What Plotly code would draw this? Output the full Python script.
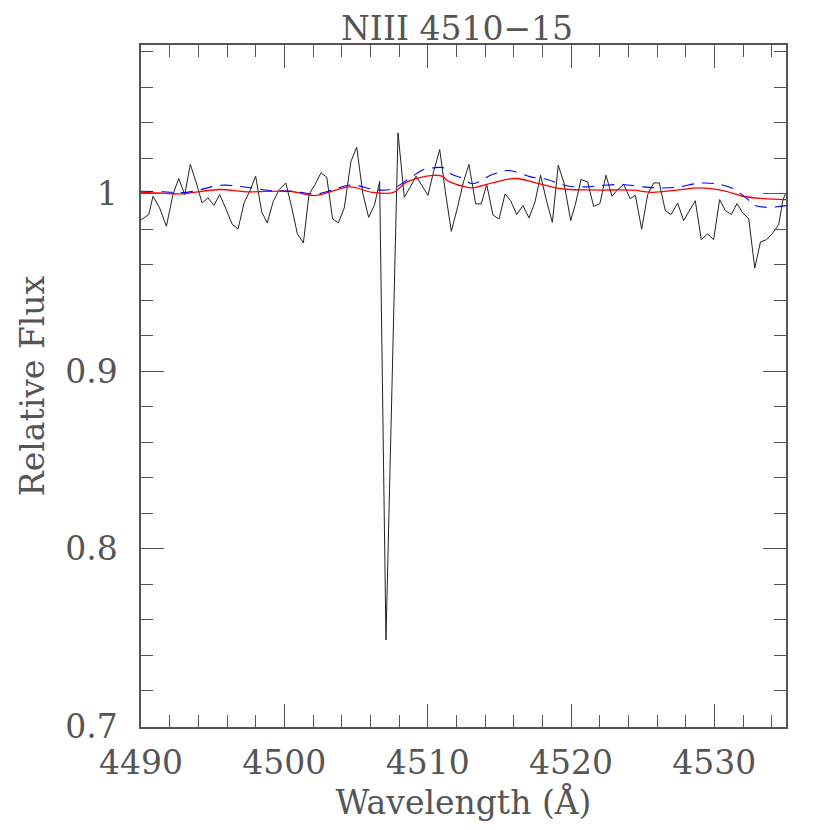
"""NIII 4510-15 line profile: observed spectrum vs two model fits."""

import plotly.graph_objects as go

# ── Observed spectrum ────────────────────────────────────────────────────
wave_obs = [
    4490.02, 4490.54, 4490.84, 4491.30, 4491.77, 4492.23, 4492.63, 4493.05,
    4493.44, 4493.86, 4494.26, 4494.67, 4495.09, 4495.49, 4495.95, 4496.35,
    4496.77, 4497.19, 4497.58, 4498.00, 4498.42, 4498.81, 4499.23, 4499.65,
    4500.10, 4500.47, 4500.91, 4501.33, 4501.72, 4502.14, 4502.56, 4502.96,
    4503.37, 4503.77, 4504.18, 4504.65, 4505.05, 4505.47, 4505.88, 4506.30,
    4506.65, 4507.09, 4507.93, 4508.37, 4508.79, 4509.19, 4509.60, 4510.02,
    4510.42, 4510.84, 4511.23, 4511.65, 4512.10, 4512.51, 4512.88, 4513.35,
    4513.74, 4514.12, 4514.56, 4514.98, 4515.40, 4515.79, 4516.21, 4516.65,
    4517.07, 4517.49, 4517.88, 4518.30, 4518.70, 4519.11, 4519.51, 4519.98,
    4520.30, 4520.70, 4521.16, 4521.58, 4522.02, 4522.44, 4522.86, 4523.26,
    4523.68, 4524.12, 4524.49, 4524.93, 4525.35, 4525.77, 4526.16, 4526.58,
    4526.98, 4527.44, 4527.86, 4528.28, 4528.67, 4529.09, 4529.53, 4529.95,
    4530.37, 4530.77, 4531.19, 4531.58, 4531.98, 4532.40, 4532.82, 4533.22,
    4533.64, 4534.08, 4534.49, 4534.79, 4534.96,
]
flux_obs = [
    0.9853, 0.9882, 0.9985, 0.9919, 0.9816, 0.9994, 1.0085, 0.9994,
    1.0164, 1.0060, 0.9947, 0.9976, 0.9934, 0.9994, 0.9910, 0.9829,
    0.9800, 0.9947, 1.0013, 1.0098, 0.9897, 0.9835, 0.9957, 1.0023,
    1.0060, 0.9938, 0.9773, 0.9722, 0.9994, 1.0051, 1.0117, 1.0092,
    0.9857, 0.9835, 0.9919, 1.0182, 1.0261, 1.0004, 0.9866, 0.9938,
    1.0069, 0.7485, 1.0342, 0.9979, 1.0038, 1.0098, 1.0045, 0.9990,
    1.0126, 1.0248, 1.0013, 0.9787, 0.9928, 1.0069, 1.0164, 0.9942,
    0.9942, 1.0051, 0.9878, 0.9857, 0.9998, 0.9960, 0.9882, 0.9932,
    0.9863, 0.9953, 1.0103, 0.9957, 0.9838, 1.0160, 1.0060, 0.9848,
    0.9938, 1.0079, 1.0066, 0.9928, 0.9944, 1.0103, 0.9985, 1.0023,
    1.0051, 0.9972, 0.9990, 0.9800, 0.9994, 1.0060, 1.0060, 0.9904,
    0.9882, 0.9947, 0.9848, 0.9910, 0.9960, 0.9740, 0.9773, 0.9740,
    0.9966, 0.9904, 0.9882, 0.9944, 0.9891, 0.9859, 0.9581, 0.9728,
    0.9740, 0.9778, 0.9825, 0.9966, 0.9998,
]

# ── Model 1 (solid red) ──────────────────────────────────────────────────
wave_red = [
    4490.00, 4491.53, 4492.72, 4495.51, 4497.37, 4500.40, 4502.14, 4504.58,
    4506.12, 4507.63, 4508.44, 4509.37, 4510.42, 4511.00, 4511.47, 4512.51,
    4513.11, 4514.51, 4516.14, 4517.54, 4518.93, 4519.98, 4521.98, 4524.31,
    4525.70, 4527.44, 4528.98, 4530.61, 4532.00, 4533.40, 4535.00,
]
flux_red = [
    1.0007, 1.0003, 0.9998, 1.0023, 1.0010, 1.0013, 0.9989, 1.0038,
    1.0007, 1.0007, 1.0060, 1.0089, 1.0103, 1.0098, 1.0069, 1.0040,
    1.0032, 1.0060, 1.0085, 1.0060, 1.0032, 1.0023, 1.0020, 1.0019,
    1.0007, 1.0020, 1.0032, 1.0017, 0.9985, 0.9972, 0.9966,
]

# ── Model 2 (dashed blue) ────────────────────────────────────────────────
wave_blue = [
    4490.00, 4491.56, 4493.19, 4495.63, 4497.37, 4499.00, 4500.63, 4502.26,
    4504.70, 4506.21, 4507.51, 4508.79, 4509.72, 4510.42, 4511.12, 4511.70,
    4512.51, 4513.11, 4514.51, 4515.67, 4517.19, 4518.35, 4519.16, 4519.98,
    4521.05, 4522.32, 4523.61, 4525.00, 4526.16, 4527.44, 4528.86, 4530.14,
    4531.30, 4532.35, 4532.70, 4533.63, 4535.00,
]
flux_blue = [
    1.0013, 1.0010, 1.0007, 1.0047, 1.0036, 1.0017, 1.0013, 0.9998,
    1.0049, 1.0023, 1.0026, 1.0089, 1.0135, 1.0145, 1.0145, 1.0107,
    1.0085, 1.0055, 1.0107, 1.0130, 1.0094, 1.0079, 1.0055, 1.0040,
    1.0038, 1.0047, 1.0051, 1.0038, 1.0032, 1.0036, 1.0058, 1.0055,
    1.0028, 0.9966, 0.9938, 0.9923, 0.9932,
]

FONT = "DejaVu Serif"
INK = "#555555"

fig = go.Figure()

fig.add_trace(go.Scatter(x=wave_obs, y=flux_obs, mode="lines",
                         line=dict(color="#222222", width=1), name="observed"))
fig.add_trace(go.Scatter(x=wave_red, y=flux_red, mode="lines",
                         line=dict(color="red", width=1.3, shape="spline"),
                         name="model A"))
fig.add_trace(go.Scatter(x=wave_blue, y=flux_blue, mode="lines",
                         line=dict(color="blue", width=1.1, shape="spline",
                                   dash="12px,8px"),
                         name="model B"))

axis_common = dict(
    showgrid=False, zeroline=False, automargin=False,
    showline=True, linecolor=INK, linewidth=1.5, mirror="ticks",
    ticks="inside", tickcolor=INK, tickwidth=1, ticklen=23,
    tickfont=dict(family=FONT, size=33, color=INK),
)

fig.update_xaxes(
    **axis_common,
    range=[4490, 4535], tick0=4490, dtick=10,
    minor=dict(dtick=2, ticks="inside", ticklen=12, tickcolor=INK, tickwidth=1),
    ticklabelstandoff=6,
    title=dict(text="Wavelength (Å)", font=dict(family=FONT, size=33, color=INK),
               standoff=16),
)
fig.update_yaxes(
    **axis_common,
    range=[0.6995, 1.0837], tickvals=[0.7, 0.8, 0.9, 1.0],
    ticktext=["0.7", "0.8", "0.9", "1"],
    minor=dict(dtick=0.02, tick0=0.7, ticks="inside", ticklen=12,
               tickcolor=INK, tickwidth=1),
    ticklabelstandoff=15,
    title=dict(text="Relative Flux", font=dict(family=FONT, size=33, color=INK),
               standoff=11),
)

# page body has an 8px margin, so the figure is kept at 814px to fit the window
fig.update_layout(
    width=814, height=814,
    margin=dict(l=133, r=36, t=37, b=95),
    paper_bgcolor="white", plot_bgcolor="white",
    showlegend=False,
    title=dict(text="NIII 4510−15", font=dict(family=FONT, size=33, color=INK),
               x=0.49, xref="paper", xanchor="center",
               y=0.9754, yref="container", yanchor="middle"),
)

fig.write_html("out.html")
